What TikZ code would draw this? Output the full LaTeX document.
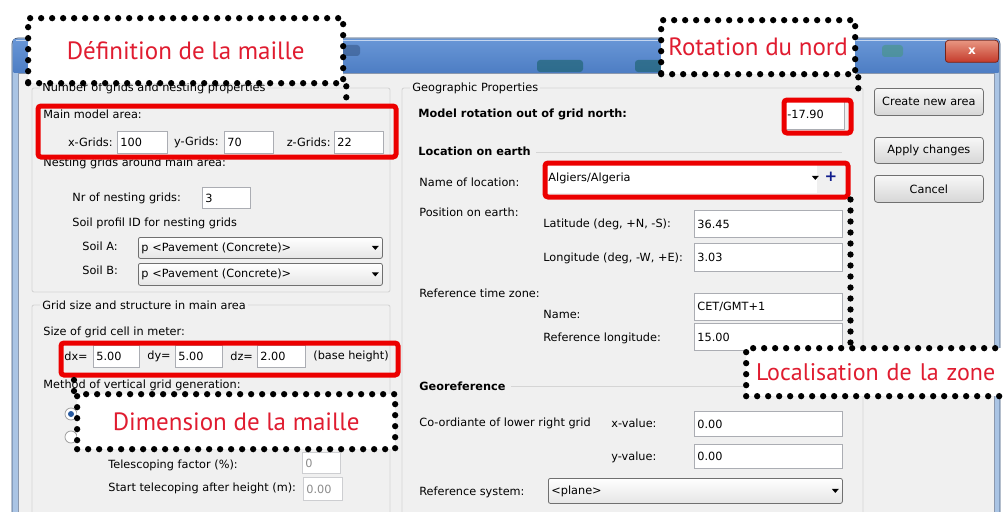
\documentclass[tikz,border=0pt]{standalone}
\usepackage{fontspec}
\setmainfont{DejaVu Sans}
\newfontfamily\notefont{PT Sans}
\usetikzlibrary{positioning}

\definecolor{wingray}{RGB}{240,240,240}
\definecolor{winedge}{RGB}{62,84,118}
\definecolor{winframe}{RGB}{170,196,228}
\definecolor{titletop}{RGB}{104,150,214}
\definecolor{titlebot}{RGB}{78,126,196}
\definecolor{blobteal}{RGB}{24,96,104}
\definecolor{blobgreen}{RGB}{70,150,130}
\definecolor{framegray}{RGB}{213,213,213}
\definecolor{fieldline}{RGB}{171,173,179}
\definecolor{btnline}{RGB}{112,112,112}
\definecolor{markred}{RGB}{236,0,0}
\definecolor{notered}{RGB}{224,28,48}
\definecolor{plusblue}{RGB}{16,28,140}
\definecolor{radioblue}{RGB}{40,90,160}
\definecolor{closetop}{RGB}{232,150,130}
\definecolor{closebot}{RGB}{196,58,42}

\tikzset{
  every picture/.style={line width=0.75pt},
  ui/.style={font=\fontsize{11.3}{13}\selectfont, inner sep=0pt, anchor=west},
  uibold/.style={ui, font=\fontsize{11.3}{13}\selectfont\bfseries},
  field/.style={draw=fieldline, fill=white, line width=0.8pt, anchor=north west,
    inner xsep=3pt, inner ysep=0pt, align=left, font=\fontsize{11.3}{13}\selectfont},
  greyfield/.style={field, draw=fieldline!60, text=black!45},
  combo/.style={field, draw=btnline, rounded corners=2pt, top color=white, bottom color=black!10},
  button/.style={draw=btnline, rounded corners=3pt, top color=black!3, bottom color=black!16,
    anchor=north west, inner sep=0pt, font=\fontsize{11.3}{13}\selectfont},
  redmark/.style={draw=markred, line width=5pt, rounded corners=3pt, anchor=north west, inner sep=0pt},
  dots/.style={draw=black, line width=6.3pt, dash pattern=on 0pt off 11pt, line cap=round},
  notebox/.style={dots, fill=white, anchor=north west, inner sep=0pt, text=notered,
    font=\notefont\fontsize{25}{27}\selectfont},
  groupframe/.style={draw=framegray, line width=0.9pt, rounded corners=2pt},
  grouplabel/.style={ui, fill=wingray, inner xsep=2pt, inner ysep=1pt},
  sepline/.style={draw=framegray, line width=0.9pt},
}

\begin{document}
\begin{tikzpicture}[x=1pt,y=1pt,yscale=-1]
\useasboundingbox (0,0) rectangle (1003,511);
\clip (0,0) rectangle (1003,511);

    % window and title bar
    \draw[winedge, fill=winframe, rounded corners=6pt] (12,38) rectangle (1000,540);
    \shade[top color=titletop, bottom color=titlebot] (13.5,39.5) rectangle (998.5,72);
    \draw[white!60!titletop] (16,40.5) -- (996,40.5);
    \foreach \bx/\by/\bw/\bh/\bc in {343/45/17/11/titlebot!70!black, 537/60/46/12/blobteal,
        635/60/40/12/blobteal, 882/45/21/12/blobgreen}{
        \fill[\bc, opacity=.6, rounded corners=3pt] (\bx,\by) rectangle ++(\bw,\bh);
    }
    \draw[winedge!60, fill=wingray] (18,73) rectangle (994,540);
    \node[draw=closebot!60!black, rounded corners=3pt, top color=closetop, bottom color=closebot,
        anchor=north west, minimum width=53pt, minimum height=22pt, inner sep=0pt,
        text=white, font=\bfseries\fontsize{12}{12}\selectfont] (closebtn) at (945,40) {x};

    % left side: number of grids
    \draw[groupframe] (32,88) rectangle (390,292);
    \node[grouplabel] (grpgrids) at (40,88) {Number of grids and nesting properties};
    \node[ui] (mainarea) at (43,114) {Main model area:};
    \node[field, text width=44pt, minimum height=22pt] (xgrid) at (117,131) {100};
    \node[ui, left=4pt of xgrid] (xgridlbl) {x-Grids:};
    \node[field, text width=43pt, minimum height=22pt] (ygrid) at (224,131) {70};
    \node[ui, left=5pt of ygrid] (ygridlbl) {y-Grids:};
    \node[field, text width=43pt, minimum height=22pt] (zgrid) at (334,131) {22};
    \node[ui, left=3pt of zgrid] (zgridlbl) {z-Grids:};
    \node[ui] (nestlbl) at (43,163) {Nesting grids around main area:};
    \node[ui] (nrlbl) at (72,198) {Nr of nesting grids:};
    \node[field, text width=42pt, minimum height=21pt] (nrfield) at (202,187) {3};
    \node[ui] (soilid) at (72,223) {Soil profil ID for nesting grids};
    \node[ui] (soilalbl) at (82,246) {Soil A:};
    \node[combo, text width=238pt, minimum height=21pt] (soila) at (138,237) {p <Pavement (Concrete)>};
    \node[ui] (soilblbl) at (82,270) {Soil B:};
    \node[combo, text width=238pt, minimum height=22pt] (soilb) at (138,263) {p <Pavement (Concrete)>};
    \node[redmark, minimum width=358pt, minimum height=51pt] (markgrid) at (35.5,103.5) {};

    % left side: grid size
    \draw[groupframe] (32,305) rectangle (390,540);
    \node[grouplabel] (grpsize) at (40,305) {Grid size and structure in main area};
    \node[ui] (cellsize) at (43,332) {Size of grid cell in meter:};
    \node[ui] (dxlbl) at (64,356) {dx=};
    \node[field, text width=40pt, minimum height=22pt] (dx) at (93,345) {5.00};
    \node[ui] (dylbl) at (147,356) {dy=};
    \node[field, text width=41pt, minimum height=22pt] (dy) at (175,345) {5.00};
    \node[ui] (dzlbl) at (230,356) {dz=};
    \node[field, text width=42pt, minimum height=22pt] (dz) at (257,345) {2.00};
    \node[ui] (basehgt) at (313,356) {(base height)};
    \node[redmark, minimum width=337pt, minimum height=32pt] (markcell) at (58.5,340.5) {};
    \node[ui] (method) at (43,385) {Method of vertical grid generation:};
    \draw[btnline!70, fill=white] (71,414) circle [radius=6];
    \fill[radioblue] (71,414) circle [radius=3];
    \draw[btnline!70, fill=white] (71,437) circle [radius=6];
    \node[ui] (telfac) at (108,465) {Telescoping factor (\%):};
    \node[greyfield, text width=32pt, minimum height=21pt] (telfield) at (302,452) {0};
    \node[ui] (telstart) at (108,488) {Start telecoping after height (m):};
    \node[greyfield, text width=33pt, minimum height=23pt] (telstartfield) at (303,477) {0.00};

    % right side: geographic properties
    \draw[groupframe] (402,88) rectangle (863,540);
    \node[grouplabel] (geolbl) at (410,88) {Geographic Properties};
    \node[uibold] (rotlbl) at (418,114) {Model rotation out of grid north:};
    \node[field, text width=54pt, minimum height=30pt] (rotfield) at (784,99) {-17.90};
    \node[redmark, minimum width=67pt, minimum height=33pt] (markrot) at (781.5,97.5) {};

    \node[uibold] (loclbl) at (418,151) {Location on earth};
    \draw[sepline] (loclbl.east) ++(5,1) -- (842,152);
    \node[ui] (locnamelbl) at (419,182) {Name of location:};
    \node[field, draw=none, text width=266pt, minimum height=31pt] (locname) at (545,162) {Algiers/Algeria};
    \node[text=plusblue, inner sep=0pt, font=\bfseries\fontsize{15}{15}\selectfont] (addloc) at (831,177) {+};
    \node[redmark, minimum width=303pt, minimum height=34pt] (markloc) at (542.5,160.5) {};
    \node[ui] (poslbl) at (419,212) {Position on earth:};
    \node[ui] (latlbl) at (543,224) {Latitude (deg, +N, -S):};
    \node[field, text width=142pt, minimum height=27pt] (lat) at (694,210) {36.45};
    \node[ui] (lonlbl) at (543,258) {Longitude (deg, -W, +E):};
    \node[field, text width=142pt, minimum height=28pt] (lon) at (694,243) {3.03};
    \node[ui] (tzlbl) at (419,293) {Reference time zone:};
    \node[ui] (tznamelbl) at (543,314) {Name:};
    \node[field, text width=142pt, minimum height=27pt] (tzname) at (694,293) {CET/GMT+1};
    \node[ui] (reflonlbl) at (543,338) {Reference longitude:};
    \node[field, text width=142pt, minimum height=27pt] (reflon) at (694,323) {15.00};

    \node[uibold] (georef) at (419,386) {Georeference};
    \draw[sepline] (georef.east) ++(5,0) -- (842,386);
    \node[ui] (coordlbl) at (419,423) {Co-ordiante of lower right grid};
    \node[ui] (xvallbl) at (611,423) {x-value:};
    \node[field, text width=142pt, minimum height=25pt] (xval) at (694,411) {0.00};
    \node[ui] (yvallbl) at (611,457) {y-value:};
    \node[field, text width=142pt, minimum height=24pt] (yval) at (694,444) {0.00};
    \node[ui] (refsyslbl) at (419,492) {Reference system:};
    \node[combo, text width=288pt, minimum height=25pt] (refsys) at (548,478) {<plane>};

    % combo arrows
    \foreach \c/\d in {soila/11, soilb/11, refsys/11, locname/6}{
        \fill (\c.east) ++(-\d,-2) -- ++(7,0) -- ++(-3.5,4) -- cycle;
    }

    % buttons
    \node[button, minimum width=109pt, minimum height=27pt] (createbtn) at (874,88) {Create new area};
    \node[button, minimum width=109pt, minimum height=26pt] (applybtn) at (874,137) {Apply changes};
    \node[button, minimum width=109pt, minimum height=27pt] (cancelbtn) at (874,175) {Cancel};

    % annotations
    \node[notebox, minimum width=315pt, minimum height=65pt] (defnote) at (25,15) {Définition de la maille};
    \node[notebox, minimum width=194pt, minimum height=54pt] (rotnote) at (658,17) {Rotation du nord};
    \node[notebox, minimum height=48pt, inner xsep=10pt, text width=262pt, align=left,
        font=\notefont\fontsize{24}{26}\selectfont] (locnote) at (743,345) {Localisation de la zone};
    \node[notebox, minimum width=318pt, minimum height=55pt] (dimnote) at (74,391) {Dimension de la maille};

    \draw[dots] (defnote.south east) -- (defnote.south east |- markgrid.north);
    \draw[dots] (rotnote.south east) -- (rotnote.south east |- markrot.north);
    \draw[dots] (markloc.south east) -- (markloc.south east |- locnote.north);
    \draw[dots] (dimnote.north west) -- (dimnote.north west |- markcell.south);

\end{tikzpicture}
\end{document}
